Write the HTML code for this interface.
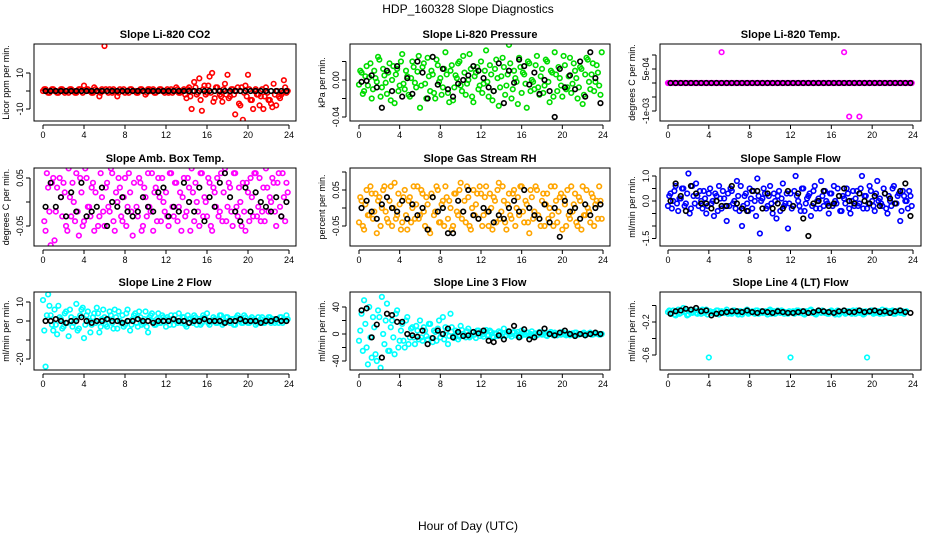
<!DOCTYPE html>
<html><head><meta charset="utf-8">
<style>
html,body{margin:0;padding:0;background:#fff;}
svg{display:block;font-family:"Liberation Sans",sans-serif;}
.t{font-size:11px;font-weight:bold;text-anchor:middle;}
.tk{font-size:9px;text-anchor:middle;}
.yl{font-size:9px;text-anchor:middle;}
</style></head>
<body>
<svg id="chart" width="936" height="540" viewBox="0 0 936 540" xmlns="http://www.w3.org/2000/svg">
<text x="468" y="13" style="font-size:12px;text-anchor:middle">HDP_160328  Slope Diagnostics</text>
<text x="468" y="530" style="font-size:12px;text-anchor:middle">Hour of Day (UTC)</text>
</svg>
<script>
// ---- data (colored = every 7.5 min in two arrays, black = every 30 min) ----
const xTicks = [0,4,8,12,16,20,24];
const co2Col = [0,1,-1,0,1,0,-1,1,0,0,-1,1,0,-1,1,0,3,1,0,-1,2,0,-3,1,
 25,0,1,-1,0,-3,1,0,-1,0,1,0,0,-1,1,0,-2,1,0,1,-1,0,1,0,
 0,-1,1,0,2,-1,0,1,-4,2,-10,5,-2,7,-11,3,-1,8,10,-4,2,-2,-6,4,
 9,-3,1,-13,2,-8,-16,3,9,-5,-10,1,-2,-3,-10,2,-5,-7,4,-8,-3,-2,6,-1];
const co2Col2 = [1,0,-1,1,0,-1,0,1,-1,0,1,0,-1,0,1,-1,0,1,0,-1,1,0,-1,0,
 1,-1,0,1,0,-1,0,1,0,-1,1,0,-1,0,1,0,-1,1,0,-1,0,1,0,-1,
 1,0,-1,0,1,-1,0,-2,1,-3,0,2,-1,-5,1,-2,3,-1,-6,2,0,-3,1,-2,
 -4,1,-2,0,-7,2,-1,-3,1,-5,0,-2,-8,1,-3,-1,-5,-9,-2,0,-4,-1,2,0];
const co2Blk = [0,0,0,0,0,0,0,0,0,0,0,0,0,0,0,0,0,0,0,0,0,0,0,0,0,0,0,0,0,0,0,0,0,0,0,0,0,0,0,0,0,0,0,0,0,0,0,0];
const presCol = [-5,8,-12,15,3,-20,10,-2,22,-8,5,-15,18,0,-25,12,-6,28,-10,4,-18,20,-3,9,
 -30,14,-4,24,-12,6,-20,16,2,-8,30,-14,10,-22,5,18,-6,26,-16,0,12,-24,8,-10,
 20,-4,32,-18,6,-12,22,-28,4,14,-6,38,-20,10,-2,24,-14,6,-30,18,0,-10,26,-16,
 12,-6,20,-24,8,30,-12,2,-18,16,-8,24,-4,10,-20,14,-26,6,22,-10,18,-2,8,-16];
const presCol2 = [10,-15,4,-6,18,-10,2,25,-18,12,-3,8,-22,15,6,-12,20,-4,10,-16,2,14,-8,26,
 -6,18,-20,4,10,-14,22,-2,-16,12,6,-24,16,-8,2,20,-12,8,-4,28,-18,4,14,-6,
 -14,10,-2,16,-22,12,2,-8,24,-16,6,18,-10,2,-26,14,8,-4,20,-12,-2,16,-8,4,
 -14,22,-2,10,-18,6,14,-6,26,-10,4,-14,18,2,-8,12,-16,24,-2,6,-12,16,-6,30];
const presBlk = [-2,-1,5,-8,-30,10,-12,15,-18,2,-15,20,8,-20,25,-5,12,-10,-18,-4,0,5,15,10,2,-8,-12,18,-25,10,-3,22,15,-5,8,-15,0,-12,-40,12,-8,5,-10,20,-18,30,2,-25];
const tempCol = [0,0,0,0,0,0,0,0,0,0,0,0,0,0,0,0,0,0,0,0,0,11,0,0,
 0,0,0,0,0,0,0,0,0,0,0,0,0,0,0,0,0,0,0,0,0,0,0,0,
 0,0,0,0,0,0,0,0,0,0,0,0,0,0,0,0,0,0,0,0,0,11,0,-12,
 0,0,0,-12,0,0,0,0,0,0,0,0,0,0,0,0,0,0,0,0,0,0,0,0];
const tempCol2 = [0,0,0,0,0,0,0,0,0,0,0,0,0,0,0,0,0,0,0,0,0,0,0,0,
 0,0,0,0,0,0,0,0,0,0,0,0,0,0,0,0,0,0,0,0,0,0,0,0,
 0,0,0,0,0,0,0,0,0,0,0,0,0,0,0,0,0,0,0,0,0,0,0,0,
 0,0,0,0,0,0,0,0,0,0,0,0,0,0,0,0,0,0,0,0,0,0,0,0];
const tempBlk = [0,0,0,0,0,0,0,0,0,0,0,0,0,0,0,0,0,0,0,0,0,0,0,0,0,0,0,0,0,0,0,0,0,0,0,0,0,0,0,0,0,0,0,0,0,0,0,0];
const ambCol = [8,-6,3,-9,5,-2,-10,1,4,-5,7,-3,0,6,-7,2,-4,5,-1,3,-6,8,-3,1,
 -5,4,-2,6,-6,0,3,-4,5,-1,2,-7,8,-3,4,-5,1,6,-2,-6,3,5,-4,0,
 2,-5,6,-3,4,-1,-6,5,-2,3,7,-4,0,-5,6,1,-3,4,-6,2,5,-2,-4,7,
 -1,3,-5,6,-3,0,4,-6,2,5,-3,6,-1,-4,3,7,-2,0,4,-5,6,-3,1,4];
const ambCol2 = [-4,6,-2,4,-8,3,5,-3,2,-6,1,4,-4,-2,5,-5,7,-1,-3,4,2,-5,6,-2,
 3,-1,7,-4,2,5,-3,1,-5,6,-2,4,-1,5,-6,3,-3,-1,6,2,-4,1,5,-2,
 -3,6,-1,4,-4,2,1,-3,5,-6,2,4,-2,6,-3,0,5,-5,3,-1,-3,6,2,-4,
 4,-2,6,-1,3,-5,-2,4,-4,1,6,-3,5,-2,-4,3,1,5,-2,4,-1,6,-4,2];
const ambBlk = [-1,4,-1,1,-3,2,-2,4,-3,-2,-1,3,-5,0,-1,1,-2,-3,-2,1,-1,-2,2,3,-3,-1,-2,4,0,-2,3,-4,1,-1,4,6,1,-2,-4,3,-2,2,0,-1,-2,1,-3,0];
const rhCol = [-4,2,-6,5,-2,4,-1,-7,3,0,6,-3,2,-5,7,-2,1,-4,5,-6,3,0,-3,6,
 -2,4,-5,1,-7,3,-1,5,-4,2,6,-3,0,-5,4,-2,7,-1,-4,3,-6,5,1,-3,
 4,-2,6,-5,0,3,-4,7,-1,2,-6,4,-3,5,0,-2,6,-4,1,-7,3,-1,5,-3,
 2,-5,4,0,-2,6,-4,3,-6,1,5,-3,-1,4,-5,2,6,-2,0,-4,3,1,-3,2];
const rhCol2 = [3,-5,1,-2,6,-3,4,2,-5,5,-1,-4,6,0,-3,4,-6,3,-2,2,-4,6,1,-3,
 5,-1,3,-6,4,-2,6,-4,1,-5,3,2,-6,4,-1,5,-3,2,6,-5,0,-2,4,6,
 -5,3,-1,4,-6,2,5,-3,6,-4,1,-2,4,-5,3,6,-1,2,-4,5,-3,6,-2,-5,
 4,1,-3,6,-5,2,-1,4,3,-5,-2,6,1,-4,3,-6,-2,5,-1,4,-5,2,6,-3];
const rhBlk = [0,2,-1,-3,1,3,0,-1,2,-3,1,-2,0,-6,3,-1,0,-7,-7,2,-1,5,-2,-3,0,-1,-4,-2,-3,0,2,-1,5,0,-2,-3,1,-4,0,-8,2,-1,0,-3,1,-2,0,1];
const flowCol = [-2,3,0,6,-4,1,5,-1,11,-3,2,7,-2,0,4,-5,3,-1,-6,2,6,-3,1,-8,
 -2,4,0,8,-4,-10,2,-1,5,-3,0,9,-13,1,3,-2,6,-5,0,2,-4,7,-1,-11,
 3,-2,10,0,-4,5,-1,2,-6,4,-3,1,8,-2,0,-5,3,6,-1,2,-4,1,5,-3,
 0,-2,4,-1,10,2,-3,6,0,-4,8,1,-2,3,-5,0,5,-1,2,-8,4,0,-3,2];
const flowCol2 = [2,-3,4,-1,1,5,-2,3,-5,6,-1,2,4,-3,1,-2,5,0,3,-4,1,4,-2,3,
 5,-1,-3,2,6,-2,3,-4,1,4,-6,2,0,5,-3,2,-1,3,-7,4,1,-2,3,-1,
 -3,4,2,-2,5,-4,1,3,-2,6,0,-3,2,4,-1,3,-2,0,5,-4,2,-1,3,-5,
 4,1,-2,5,-3,2,-1,4,-2,3,0,-1,5,-3,2,-2,6,-1,3,-4,2,0,4,-2];
const flowBlk = [0,7,2,-4,6,3,-1,-1,-3,0,-2,-2,6,-1,-3,-4,4,4,-3,3,-3,-1,-3,4,-2,3,-7,-14,-1,0,4,-2,-1,2,5,0,-1,3,0,-1,2,-2,3,1,-1,4,7,-6];
const l2Col = [11,-24,14,3,-5,-2,8,1,-3,5,-8,2,-1,9,-4,6,-9,3,0,-2,4,7,-6,1,
 2,-3,5,-1,6,-4,0,3,-2,6,-5,1,4,-3,2,-1,5,-6,3,0,-2,4,-1,2,
 -3,1,3,-2,0,4,-1,2,-3,1,0,3,-2,1,-1,2,4,-2,0,1,-1,3,-2,0,
 2,-1,1,-2,3,0,-1,2,-1,1,0,-2,2,1,-1,0,2,-1,1,0,-1,2,1,3];
const l2Col2 = [-5,3,8,-2,6,-7,2,-4,4,-1,6,-3,1,-5,3,7,-2,5,-6,2,-1,4,-3,6,
 -2,1,3,-4,2,5,-1,-3,4,0,-2,3,-1,5,-2,1,-3,2,4,-2,1,-1,3,0,
 2,-2,1,3,-1,0,2,-2,3,1,-1,2,0,-2,3,1,-1,0,2,-1,1,3,-1,2,
 0,1,-2,2,1,-1,3,0,-1,2,1,-1,0,2,-1,1,2,0,-1,1,2,-1,0,1];
const l2Blk = [0,0,1,0,-1,0,0,2,0,-1,0,0,1,0,0,-1,0,0,1,0,0,-1,0,0,0,1,0,0,-1,0,0,1,0,0,0,-1,0,0,1,0,0,0,-1,0,0,1,0,0];
const l3Col = [-10,30,50,-20,40,-35,10,-40,25,55,-15,45,-25,20,-30,35,-10,15,-20,25,-5,10,-15,5,
 20,-10,5,-8,15,-12,3,8,-5,25,10,-15,30,-3,5,-8,12,0,-5,8,-3,3,-6,5,
 2,-4,6,-2,3,-5,0,4,-3,8,-2,1,-4,3,0,-2,5,-1,2,-3,4,0,-2,3,
 -1,2,-3,1,0,2,-2,1,3,-1,0,-2,1,2,-1,0,1,-2,0,2,-1,1,0,-1];
const l3Col2 = [5,-25,15,-45,-5,25,-30,35,-50,0,20,-25,10,-5,30,-20,5,-10,20,-15,8,-5,12,-8,
 -5,10,-3,15,-6,5,-10,20,0,-8,5,-3,10,-6,2,-4,6,-2,4,-5,2,-1,5,-3,
 -1,3,-2,5,-4,1,-3,2,0,-3,4,-1,2,-2,3,-4,1,-1,2,0,-3,1,-1,2,
 0,-2,1,3,-2,0,1,-1,2,-2,1,0,-1,2,-1,0,2,-1,1,-1,0,1,-1,0];
const l3Blk = [35,38,-5,14,-35,30,28,18,18,0,-2,-4,5,-15,-6,5,0,8,-5,3,-3,-2,3,1,5,-10,-12,-2,-8,4,12,-5,7,-8,-5,2,8,0,-2,2,5,0,-3,0,-2,0,2,0];
const l4Col = [-8,-10,-6,-12,-5,-9,-3,-7,-11,-5,-8,-9,-6,-10,-7,-5,-63,-9,-8,-6,-11,-7,-9,-5,
 -8,-10,-6,-9,-7,-11,-8,-5,-9,-7,-10,-6,-8,-9,-7,-11,-5,-8,-10,-6,-9,-7,-8,-10,
 -63,-7,-9,-6,-8,-10,-7,-9,-5,-8,-11,-6,-9,-7,-8,-10,-6,-9,-7,-11,-8,-6,-9,-7,
 -10,-8,-6,-9,-7,-10,-63,-8,-6,-9,-7,-10,-5,-8,-9,-7,-6,-10,-8,-9,-7,-8];
const l4Col2 = [-6,-9,-11,-7,-10,-6,-8,-12,-7,-9,-6,-10,-8,-5,-9,-11,-7,-8,-10,-6,-9,-8,-7,-10,
 -9,-6,-8,-11,-7,-9,-6,-10,-8,-9,-6,-10,-7,-8,-9,-6,-10,-7,-9,-8,-6,-10,-9,-7,
 -8,-10,-6,-9,-7,-11,-8,-6,-9,-10,-7,-8,-6,-9,-10,-7,-8,-11,-6,-9,-8,-10,-7,-9,
 -6,-10,-8,-9,-11,-7,-8,-6,-10,-9,-7,-8,-10,-6,-9,-7,-10,-8,-6,-9,-10,-7];
const l4Blk = [-10,-7,-6,-4,-5,-3,-7,-6,-12,-10,-9,-8,-7,-7,-8,-6,-8,-9,-7,-8,-9,-7,-8,-9,-9,-8,-7,-9,-8,-6,-7,-8,-9,-7,-6,-8,-8,-6,-8,-7,-6,-8,-7,-9,-7,-6,-8,-9];

const panels = [
 {name:'co2',title:'Slope Li-820 CO2',ylab:'Licor ppm per min.',col:0,row:0,color:'#ff0000',c:co2Col,c2:co2Col2,b:co2Blk,u:1,r:[0,91,10,73],ticks:[-10,0,10],labels:['-10','','10']},
 {name:'pressure',title:'Slope Li-820 Pressure',ylab:'kPa per min.',col:1,row:0,color:'#00dd00',c:presCol,c2:presCol2,b:presBlk,u:0.001,r:[0,80,-0.04,117],ticks:[-0.04,-0.02,0,0.02],labels:['-0.04','','0.00','']},
 {name:'temp',title:'Slope Li-820 Temp.',ylab:'degrees C per min.',col:2,row:0,color:'#ff00ff',c:tempCol,c2:tempCol2,b:tempBlk,u:0.0001,r:[0,83,0.0005,69],ticks:[-0.001,-0.0005,0,0.0005,0.001],labels:['-1e-03','','','5e-04','']},
 {name:'amb-box-temp',title:'Slope Amb. Box Temp.',ylab:'degrees C per min.',col:0,row:1,color:'#ff00ff',c:ambCol,c2:ambCol2,b:ambBlk,u:0.01,r:[0,202,0.05,178],ticks:[-0.05,0,0.05],labels:['-0.05','','0.05']},
 {name:'gas-rh',title:'Slope Gas Stream RH',ylab:'percent per min.',col:1,row:1,color:'#ffa500',c:rhCol,c2:rhCol2,b:rhBlk,u:0.01,r:[0,208,0.05,190],ticks:[-0.05,0,0.05,0.1],labels:['-0.05','','0.05','']},
 {name:'sample-flow',title:'Slope Sample Flow',ylab:'ml/min per min.',col:2,row:1,color:'#0000ff',c:flowCol,c2:flowCol2,b:flowBlk,u:0.1,r:[0,201,1,176],ticks:[-1.5,-1,-0.5,0,0.5,1],labels:['-1.5','','','0.0','','1.0']},
 {name:'line2-flow',title:'Slope Line 2 Flow',ylab:'ml/min per min.',col:0,row:2,color:'#00ffff',c:l2Col,c2:l2Col2,b:l2Blk,u:1,r:[0,321,10,302],ticks:[-20,-10,0,10],labels:['-20','','0','10']},
 {name:'line3-flow',title:'Slope Line 3 Flow',ylab:'ml/min per min.',col:1,row:2,color:'#00ffff',c:l3Col,c2:l3Col2,b:l3Blk,u:1,r:[0,334,40,307],ticks:[-40,-20,0,20,40],labels:['-40','','0','','40']},
 {name:'line4-flow',title:'Slope Line 4 (LT) Flow',ylab:'ml/min per min.',col:2,row:2,color:'#00ffff',c:l4Col,c2:l4Col2,b:l4Blk,u:0.01,r:[-0.2,322,-0.6,355],ticks:[-0.6,-0.4,-0.2,0],labels:['-0.6','','-0.2','']}
];
const colsX = [[34,296,43,289],[350,610,359,603],[660,921,668,913]];
const rowsY = [[44,121],[168,246],[292,370]];
const NS='http://www.w3.org/2000/svg';
const svg=document.getElementById('chart');
function mk(tag,attrs,parent){const e=document.createElementNS(NS,tag);for(const k in attrs)e.setAttribute(k,attrs[k]);(parent||svg).appendChild(e);return e;}

panels.forEach(p=>{
  const [bx0,bx1,x0,x24]=colsX[p.col];
  const [by0,by1]=rowsY[p.row];
  const xs=h=>x0+(x24-x0)*h/24;
  const [v1,py1,v2,py2]=p.r;
  const ys=v=>py1+(v-v1)*(py2-py1)/(v2-v1);
  const g=mk('g',{});
  
  
  const t=mk('text',{x:(bx0+bx1)/2,y:by0-6,class:'t'},g);t.textContent=p.title;
  
  
  const cp=mk('clipPath',{id:'cp'+p.name},g);mk('rect',{x:bx0,y:by0,width:bx1-bx0,height:by1-by0},cp);
  const pts=mk('g',{'clip-path':'url(#cp'+p.name+')'},g);
  p.c.forEach((v,i)=>{
    const c=mk('circle',{cx:xs(i/4),cy:ys(v*p.u),r:2.3,fill:'none',stroke:p.color,'stroke-width':1.6},pts);
    
    
  });
  p.c2.forEach((v,i)=>{
    const c=mk('circle',{cx:xs(i/4+0.125),cy:ys(v*p.u),r:2.3,fill:'none',stroke:p.color,'stroke-width':1.6},pts);
    
    
  });
  p.b.forEach((v,i)=>{
    const c=mk('circle',{cx:xs(i/2+0.25),cy:ys(v*p.u),r:2.3,fill:'none',stroke:'#000','stroke-width':1.6},pts);
    
    
  });
  const box=mk('rect',{x:bx0,y:by0,width:bx1-bx0,height:by1-by0,fill:'none',stroke:'#000','stroke-width':1},g);
  
  
  mk('line',{x1:xs(0),x2:xs(24),y1:by1+4,y2:by1+4,stroke:'#000'},g);
  xTicks.forEach(h=>{
    mk('line',{x1:xs(h),x2:xs(h),y1:by1+4,y2:by1+8,stroke:'#000'},g);
    const l=mk('text',{x:xs(h),y:by1+17,class:'tk'},g);l.textContent=h;
    
    
  });
  const yt=p.ticks.map(ys);
  mk('line',{x1:bx0-4,x2:bx0-4,y1:Math.min(...yt),y2:Math.max(...yt),stroke:'#000'},g);
  p.ticks.forEach((v,i)=>{
    const y=ys(v);
    mk('line',{x1:bx0-8,x2:bx0-4,y1:y,y2:y,stroke:'#000'},g);
    if(p.labels[i]){
      const l=mk('text',{x:bx0-11,y:y,class:'tk',transform:'rotate(-90 '+(bx0-11)+' '+y+')'},g);l.textContent=p.labels[i];
      
      
    }
  });
  const cy=(by0+by1)/2;
  const yl=mk('text',{x:bx0-25,y:cy,class:'yl',transform:'rotate(-90 '+(bx0-25)+' '+cy+')'},g);yl.textContent=p.ylab;
  
  
});
</script>
</body></html>
